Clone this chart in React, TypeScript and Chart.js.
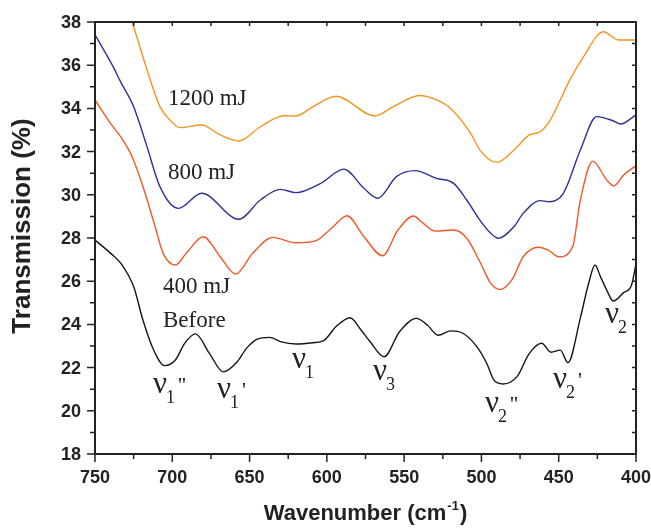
import React, { useEffect, useRef } from 'react';
import { Chart, registerables } from 'chart.js';

Chart.register(...registerables);

// ---- Data (wavenumber in cm^-1, transmission in %) ----
const beforeX = [750, 740, 733, 725, 719, 712, 705, 698, 692, 685, 676, 667, 658, 652, 645, 637, 630, 620, 609, 602, 594, 585, 578, 572, 563, 553, 542, 535, 528, 520, 512, 503, 496.6, 492, 486, 477, 469, 461, 455, 449, 444, 436, 431, 426.5, 423, 419, 414.7, 408, 403, 400];
const beforeY = [27.9, 27.3, 26.8, 25.75, 24.2, 22.8, 22.09, 22.35, 23.12, 23.56, 22.66, 21.8, 22.27, 22.89, 23.32, 23.4, 23.2, 23.09, 23.15, 23.25, 23.9, 24.31, 23.75, 23.2, 22.5, 23.66, 24.28, 23.97, 23.5, 23.7, 23.59, 22.97, 22.2, 21.43, 21.24, 21.58, 22.66, 23.13, 22.71, 22.81, 22.23, 24.3, 25.8, 26.75, 26.21, 25.6, 25.08, 25.47, 25.8, 26.8];

const mj400X = [750, 740, 732, 726, 719, 711, 706, 698, 691, 680, 669, 659, 648, 635, 620, 607, 596, 587, 576, 564, 554, 544, 538, 530, 518, 509.5, 501, 494, 488, 480, 473, 463, 457, 450, 441, 436, 428, 419, 414.5, 408, 400];
const mj400Y = [34.39, 33.31, 32.54, 31.76, 30.38, 28.5, 27.3, 26.75, 27.29, 28.06, 27.13, 26.33, 27.29, 28.03, 27.78, 27.88, 28.52, 29.03, 28.06, 27.18, 28.37, 29.02, 28.7, 28.32, 28.37, 27.99, 26.9, 25.9, 25.62, 26.1, 27.13, 27.57, 27.45, 27.13, 27.6, 29.76, 31.56, 30.69, 30.41, 30.92, 31.35];

const mj800X = [750, 738, 734, 725, 717, 708, 696, 681, 657, 643, 630, 620, 604, 589, 576, 567, 555, 543, 529, 518, 509.5, 501, 494, 489, 479, 473, 462, 456, 447, 436, 425.5, 415, 410, 400];
const mj800Y = [37.4, 35.9, 35.31, 34.08, 32.38, 30.38, 29.37, 30.07, 28.87, 29.76, 30.25, 30.1, 30.53, 31.19, 30.3, 29.84, 30.84, 31.12, 30.76, 30.53, 29.76, 28.83, 28.22, 27.99, 28.52, 29.14, 29.73, 29.68, 30.07, 32.07, 33.62, 33.43, 33.28, 33.7];

const mj1200X = [732, 726, 717, 708, 701.5, 695, 681, 669, 657, 643, 628, 620, 609, 594, 569, 557, 540, 529, 520, 507, 501, 490, 479, 469, 462, 456, 449, 443, 434, 421, 411.5, 400];
const mj1200Y = [39.2, 38.0, 35.93, 34.08, 33.46, 33.11, 33.23, 32.77, 32.49, 33.15, 33.66, 33.65, 34.08, 34.56, 33.65, 34.08, 34.6, 34.39, 34.0, 32.85, 32.07, 31.5, 32.07, 32.77, 32.92, 33.4, 34.39, 35.3, 36.39, 37.55, 37.17, 37.17];

const seriesNames = ['Before', '400 mJ', '800 mJ', '1200 mJ'];
const seriesColors = ['#161616', '#f05a28', '#2e3192', '#f7941d'];

// Axis ranges and ticks
const xMin = 400;
const xMax = 750;
const xMajorStep = 50;
const xMinorStep = 25;
const yMin = 18;
const yMax = 38;
const yMajorStep = 2;
const yMinorStep = 1;

const xTitleMain = 'Wavenumber (cm';
const xTitleSup = '-1';
const xTitleEnd = ')';
const yTitle = 'Transmission (%)';

// In-plot text labels (data coordinates: left edge, baseline)
const curveLabels = [
  { text: '1200 mJ', x: 702.8, y: 34.16 },
  { text: '800 mJ', x: 702.8, y: 30.73 },
  { text: '400 mJ', x: 706, y: 25.47 },
  { text: 'Before', x: 706, y: 23.89 },
];

const bandLabels = [
  { base: 'ν', sub: '1', mark: "''", x: 712.5, y: 20.82 },
  { base: 'ν', sub: '1', mark: "'", x: 671.1, y: 20.59 },
  { base: 'ν', sub: '1', mark: '', x: 622.6, y: 21.98 },
  { base: 'ν', sub: '3', mark: '', x: 570.1, y: 21.43 },
  { base: 'ν', sub: '2', mark: "''", x: 497.7, y: 19.94 },
  { base: 'ν', sub: '2', mark: "'", x: 453.7, y: 21.06 },
  { base: 'ν', sub: '2', mark: '', x: 420.1, y: 24.06 },
];

const SANS = "'Liberation Sans', Arial, Helvetica, sans-serif";
const SERIF = "'Liberation Serif', 'Times New Roman', Times, serif";
const INK = '#222222';

function pts(xs: number[], ys: number[]) {
  return xs.map((x, i) => ({ x, y: ys[i] }));
}

const decorPlugin = {
  id: 'decor',
  afterDatasetsDraw(chart: any) {
    const { ctx, chartArea: a, scales } = chart;
    const xs = scales.x;
    const ys = scales.y;
    ctx.save();

    // frame
    ctx.strokeStyle = INK;
    ctx.lineWidth = 2;
    ctx.strokeRect(a.left, a.top, a.right - a.left, a.bottom - a.top);

    // tick marks
    ctx.lineWidth = 1.5;
    ctx.beginPath();
    for (let v = yMin; v <= yMax; v += yMinorStep) {
      const py = ys.getPixelForValue(v);
      const major = (v - yMin) % yMajorStep === 0;
      ctx.moveTo(a.left - (major ? 8 : 5), py);
      ctx.lineTo(a.left, py);
      ctx.moveTo(a.right, py);
      ctx.lineTo(a.right - 4, py);
    }
    for (let v = xMin; v <= xMax; v += xMinorStep) {
      const px = xs.getPixelForValue(v);
      const major = (v - xMin) % xMajorStep === 0;
      ctx.moveTo(px, a.bottom);
      ctx.lineTo(px, a.bottom + (major ? 8 : 5));
      ctx.moveTo(px, a.top);
      ctx.lineTo(px, a.top + 4);
    }
    ctx.stroke();

    // tick labels
    ctx.fillStyle = INK;
    ctx.font = `bold 18px ${SANS}`;
    ctx.textBaseline = 'middle';
    ctx.textAlign = 'right';
    for (let v = yMin; v <= yMax; v += yMajorStep) {
      ctx.fillText(String(v), a.left - 14, ys.getPixelForValue(v) + 1);
    }
    ctx.textAlign = 'center';
    for (let v = xMin; v <= xMax; v += xMajorStep) {
      ctx.fillText(String(v), xs.getPixelForValue(v), a.bottom + 24);
    }

    // curve labels
    ctx.textAlign = 'left';
    ctx.textBaseline = 'alphabetic';
    ctx.font = `23px ${SERIF}`;
    curveLabels.forEach((l) => {
      ctx.fillText(l.text, xs.getPixelForValue(l.x), ys.getPixelForValue(l.y));
    });

    // band labels
    bandLabels.forEach((l) => {
      const px = xs.getPixelForValue(l.x);
      const py = ys.getPixelForValue(l.y);
      ctx.font = `31px ${SERIF}`;
      ctx.fillText(l.base, px, py);
      const bw = ctx.measureText(l.base).width;
      ctx.font = `18px ${SERIF}`;
      const sx = px + bw - 1;
      ctx.fillText(l.sub, sx, py + 10);
      const sw = ctx.measureText(l.sub).width;
      if (l.mark) {
        ctx.font = `22px ${SERIF}`;
        ctx.fillText(l.mark, sx + sw + 3, py - 1);
      }
    });

    // axis titles
    ctx.font = `bold 22px ${SANS}`;
    const w1 = ctx.measureText(xTitleMain).width;
    const w3 = ctx.measureText(xTitleEnd).width;
    ctx.font = `bold 13px ${SANS}`;
    const w2 = ctx.measureText(xTitleSup).width;
    const cx = (a.left + a.right) / 2;
    const start = cx - (w1 + w2 + w3 + 2) / 2;
    const by = 520;
    ctx.font = `bold 22px ${SANS}`;
    ctx.fillText(xTitleMain, start, by);
    ctx.font = `bold 13px ${SANS}`;
    ctx.fillText(xTitleSup, start + w1 + 1, by - 10);
    ctx.font = `bold 22px ${SANS}`;
    ctx.fillText(xTitleEnd, start + w1 + w2 + 2, by);

    ctx.translate(23, (a.top + a.bottom) / 2 - 12);
    ctx.rotate(-Math.PI / 2);
    ctx.textAlign = 'center';
    ctx.textBaseline = 'middle';
    ctx.font = `bold 26px ${SANS}`;
    ctx.fillText(yTitle, 0, 0);

    ctx.restore();
  },
};

export default function App() {
  const ref = useRef<HTMLCanvasElement | null>(null);

  useEffect(() => {
    if (!ref.current) return;
    const xsArr = [beforeX, mj400X, mj800X, mj1200X];
    const ysArr = [beforeY, mj400Y, mj800Y, mj1200Y];
    const chart = new Chart(ref.current, {
      type: 'line',
      data: {
        datasets: seriesNames.map((name, i) => ({
          label: name,
          data: pts(xsArr[i], ysArr[i]),
          borderColor: seriesColors[i],
          borderWidth: 1.4,
          pointRadius: 0,
          fill: false,
          cubicInterpolationMode: 'monotone' as const,
        })),
      },
      options: {
        animation: false,
        responsive: false,
        devicePixelRatio: 1,
        layout: { padding: { top: 22, right: 15, left: 0, bottom: 0 } },
        plugins: {
          legend: { display: false },
          tooltip: { enabled: false },
          title: { display: false },
        },
        scales: {
          x: {
            type: 'linear',
            min: xMin,
            max: xMax,
            reverse: true,
            grid: { display: false, drawTicks: false },
            border: { display: false },
            ticks: { display: false, stepSize: xMajorStep },
            afterFit: (s: any) => {
              s.height = 74;
              s.paddingLeft = 0;
              s.paddingRight = 0;
            },
          },
          y: {
            type: 'linear',
            min: yMin,
            max: yMax,
            grid: { display: false, drawTicks: false },
            border: { display: false },
            ticks: { display: false, stepSize: yMajorStep },
            afterFit: (s: any) => {
              s.width = 95;
              s.paddingTop = 0;
              s.paddingBottom = 0;
            },
          },
        },
      },
      plugins: [decorPlugin],
    });
    return () => chart.destroy();
  }, []);

  return (
    <div style={{ position: 'absolute', left: 0, top: 0, width: 651, height: 528 }}>
      <canvas ref={ref} width={651} height={528} style={{ display: 'block' }} />
    </div>
  );
}
